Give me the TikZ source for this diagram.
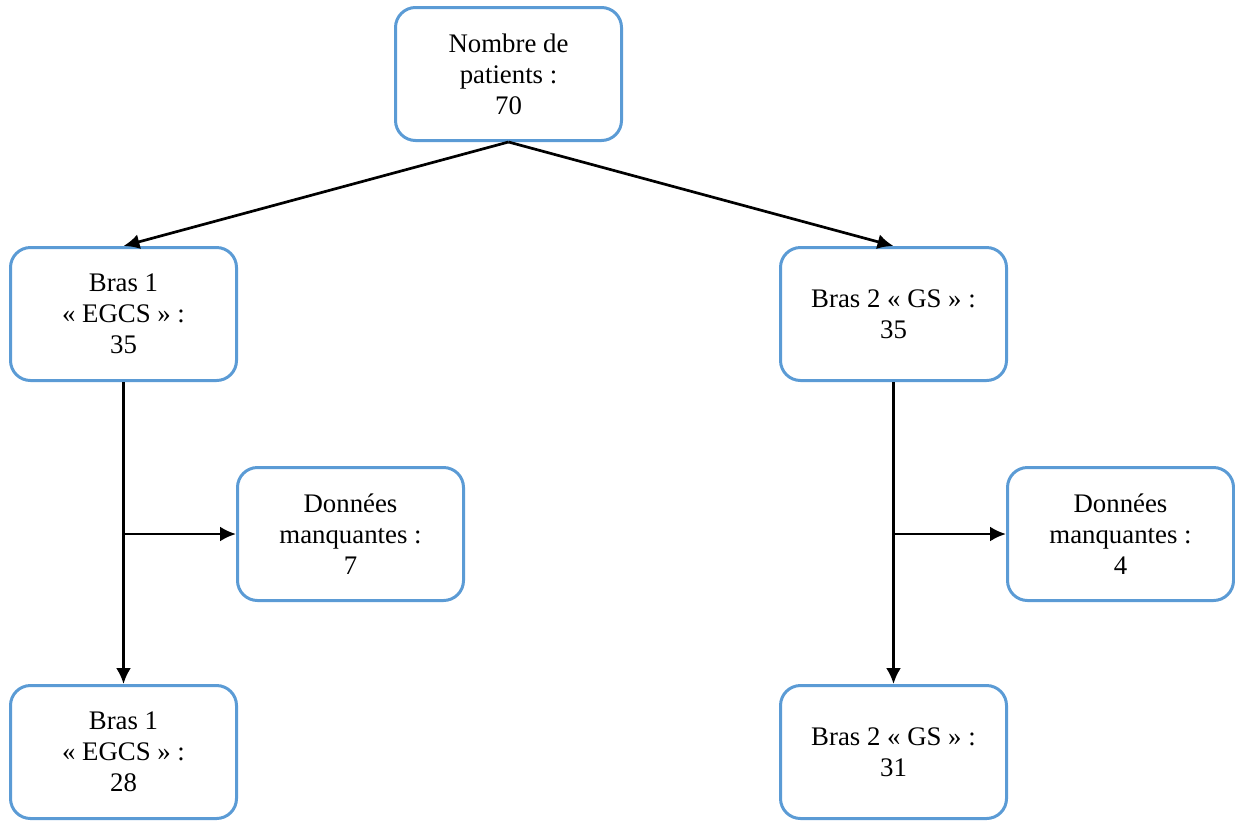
\documentclass[tikz,border=0pt]{standalone}
\usepackage{fontspec}
\setmainfont{Liberation Serif}
\usepackage{tikz}
\usetikzlibrary{arrows.meta,positioning,calc}
\definecolor{boxblue}{RGB}{91,155,213}
\tikzstyle{box} = [draw=boxblue, line width=1.5pt, rounded corners=10pt, minimum width=113pt, minimum height=66.5pt, align=center, font=\fontsize{13.4}{15.5}\selectfont]
\tikzstyle{arrow} = [line width=1.35pt, -{Latex[length=8pt,width=7.5pt]}]

\begin{document}
\begin{tikzpicture}[x=0.5pt,y=-0.5pt]
\useasboundingbox (0,0) rectangle (1235,820);
%boxes
\node[box] (total) at (508.5,74) {Nombre de\\patients :\\70};
\node[box] (bras1) at (123.5,314) {Bras 1\\« EGCS » :\\35};
\node[box] (bras2) at (893.5,314) {Bras 2 « GS » :\\35};
\node[box] (manq1) at (350.5,534) {Données\\manquantes :\\7};
\node[box] (manq2) at (1120.5,534) {Données\\manquantes :\\4};
\node[box] (fin1) at (123.5,752) {Bras 1\\« EGCS » :\\28};
\node[box] (fin2) at (893.5,752) {Bras 2 « GS » :\\31};
%arrows
\draw[arrow] (total.south) -- (bras1.north);
\draw[arrow] (total.south) -- (bras2.north);
\draw[arrow] (bras1.south) -- (fin1.north);
\draw[arrow] (bras2.south) -- (fin2.north);
\coordinate (j1) at (bras1.south |- manq1.west);
\coordinate (j2) at (bras2.south |- manq2.west);
\draw[arrow] (j1) -- (manq1.west);
\draw[arrow] (j2) -- (manq2.west);
\end{tikzpicture}
\end{document}
